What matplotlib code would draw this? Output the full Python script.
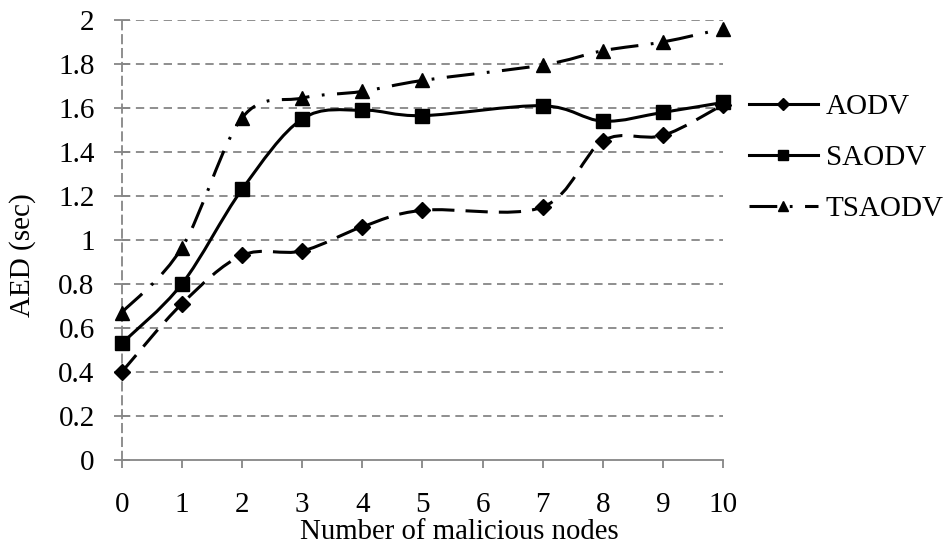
import numpy as np
import matplotlib
matplotlib.use('Agg')
import matplotlib.pyplot as plt
from matplotlib.path import Path
from matplotlib.patches import PathPatch
from matplotlib.lines import Line2D

plt.rcParams['font.family'] = ['Liberation Serif', 'DejaVu Serif']
plt.rcParams['lines.scale_dashes'] = False

nodes = [0, 1, 2, 3, 4, 5, 7, 8, 9, 10]
aodv = [0.40, 0.71, 0.93, 0.95, 1.06, 1.135, 1.15, 1.45, 1.475, 1.615]
saodv = [0.53, 0.80, 1.23, 1.55, 1.59, 1.565, 1.61, 1.54, 1.58, 1.625]
tsaodv = [0.67, 0.965, 1.555, 1.645, 1.675, 1.725, 1.795, 1.86, 1.90, 1.96]
series_names = ['AODV', 'SAODV', 'TSAODV']
x_ticks = list(range(11))
y_ticks = [round(0.2 * i, 1) for i in range(11)]
y_ticklabels = ['0', '0.2', '0.4', '0.6', '0.8', '1', '1.2', '1.4', '1.6', '1.8', '2']


def smooth_path(xs, ys):
    # Excel-style smoothed line: cubic bezier through every point
    pts = np.column_stack([xs, ys]).astype(float)
    n = len(pts)
    verts = [pts[0]]
    codes = [Path.MOVETO]
    for i in range(n - 1):
        p0 = pts[i - 1] if i > 0 else pts[i]
        p1 = pts[i]
        p2 = pts[i + 1]
        p3 = pts[i + 2] if i + 2 < n else pts[i + 1]
        c1 = p1 + (p2 - p0) / 6.0
        c2 = p2 - (p3 - p1) / 6.0
        verts += [c1, c2, p2]
        codes += [Path.CURVE4] * 3
    return Path(verts, codes)


fig = plt.figure(figsize=(9.44, 5.46), dpi=100)
ax = fig.add_axes([0.129, 0.1575, 0.637, 0.806])

grid_col = '#868686'
for v in y_ticks[1:]:
    ax.axhline(v, color=grid_col, lw=1.3, ls=(0, (6, 4)), zorder=1)

lw = 2.2
dash_ls = (0, (16, 8))
dashdot_ls = (0, (20, 9, 2, 9))
styles = [
    dict(data=aodv, ls=dash_ls, leg_ls='-', marker='D', ms=8),
    dict(data=saodv, ls='-', leg_ls='-', marker='s', ms=10),
    dict(data=tsaodv, ls=dashdot_ls, leg_ls=dashdot_ls, marker='^', ms=10),
]

handles = []
for name, st in zip(series_names, styles):
    patch = PathPatch(smooth_path(nodes, st['data']), fill=False, edgecolor='black',
                      lw=lw, ls=st['ls'], zorder=3, capstyle='butt')
    ax.add_patch(patch)
    ax.plot(nodes, st['data'], ls='none', marker=st['marker'], ms=st['ms'],
            color='black', zorder=4, clip_on=False)
    handles.append(Line2D([], [], color='black', lw=lw, ls=st['leg_ls'],
                          marker=st['marker'], ms=st['ms'] * 0.75))

ax.set_xlim(0, 10)
ax.set_ylim(0, 2)
ax.set_xticks(x_ticks)
ax.set_yticks(y_ticks)
ax.set_yticklabels(y_ticklabels)

for s in ['top', 'right']:
    ax.spines[s].set_visible(False)
ax.spines['bottom'].set_color(grid_col)
ax.spines['bottom'].set_linewidth(1.3)
ax.spines['left'].set_color(grid_col)
ax.spines['left'].set_linewidth(1.3)
ax.spines['left'].set_linestyle((0, (6, 4)))

fs = 21
ax.tick_params(axis='y', direction='inout', length=11, width=1.3, color=grid_col,
               labelsize=fs, pad=14)
ax.tick_params(axis='x', direction='out', length=6, width=1.3, color=grid_col,
               labelsize=fs, pad=17)

ax.set_xlabel('Number of malicious nodes', fontsize=20.7, va='baseline')
ax.xaxis.set_label_coords(0.562, -0.1795)
ax.set_ylabel('AED (sec)', fontsize=fs)
ax.yaxis.set_label_coords(-0.143, 0.466)

fig.legend(handles, series_names, loc='upper left', bbox_to_anchor=(0.781, 0.850),
           frameon=False, fontsize=fs, handlelength=2.36, handletextpad=0.27,
           labelspacing=0.85, borderaxespad=0)

fig.savefig('out.png', dpi=100)
